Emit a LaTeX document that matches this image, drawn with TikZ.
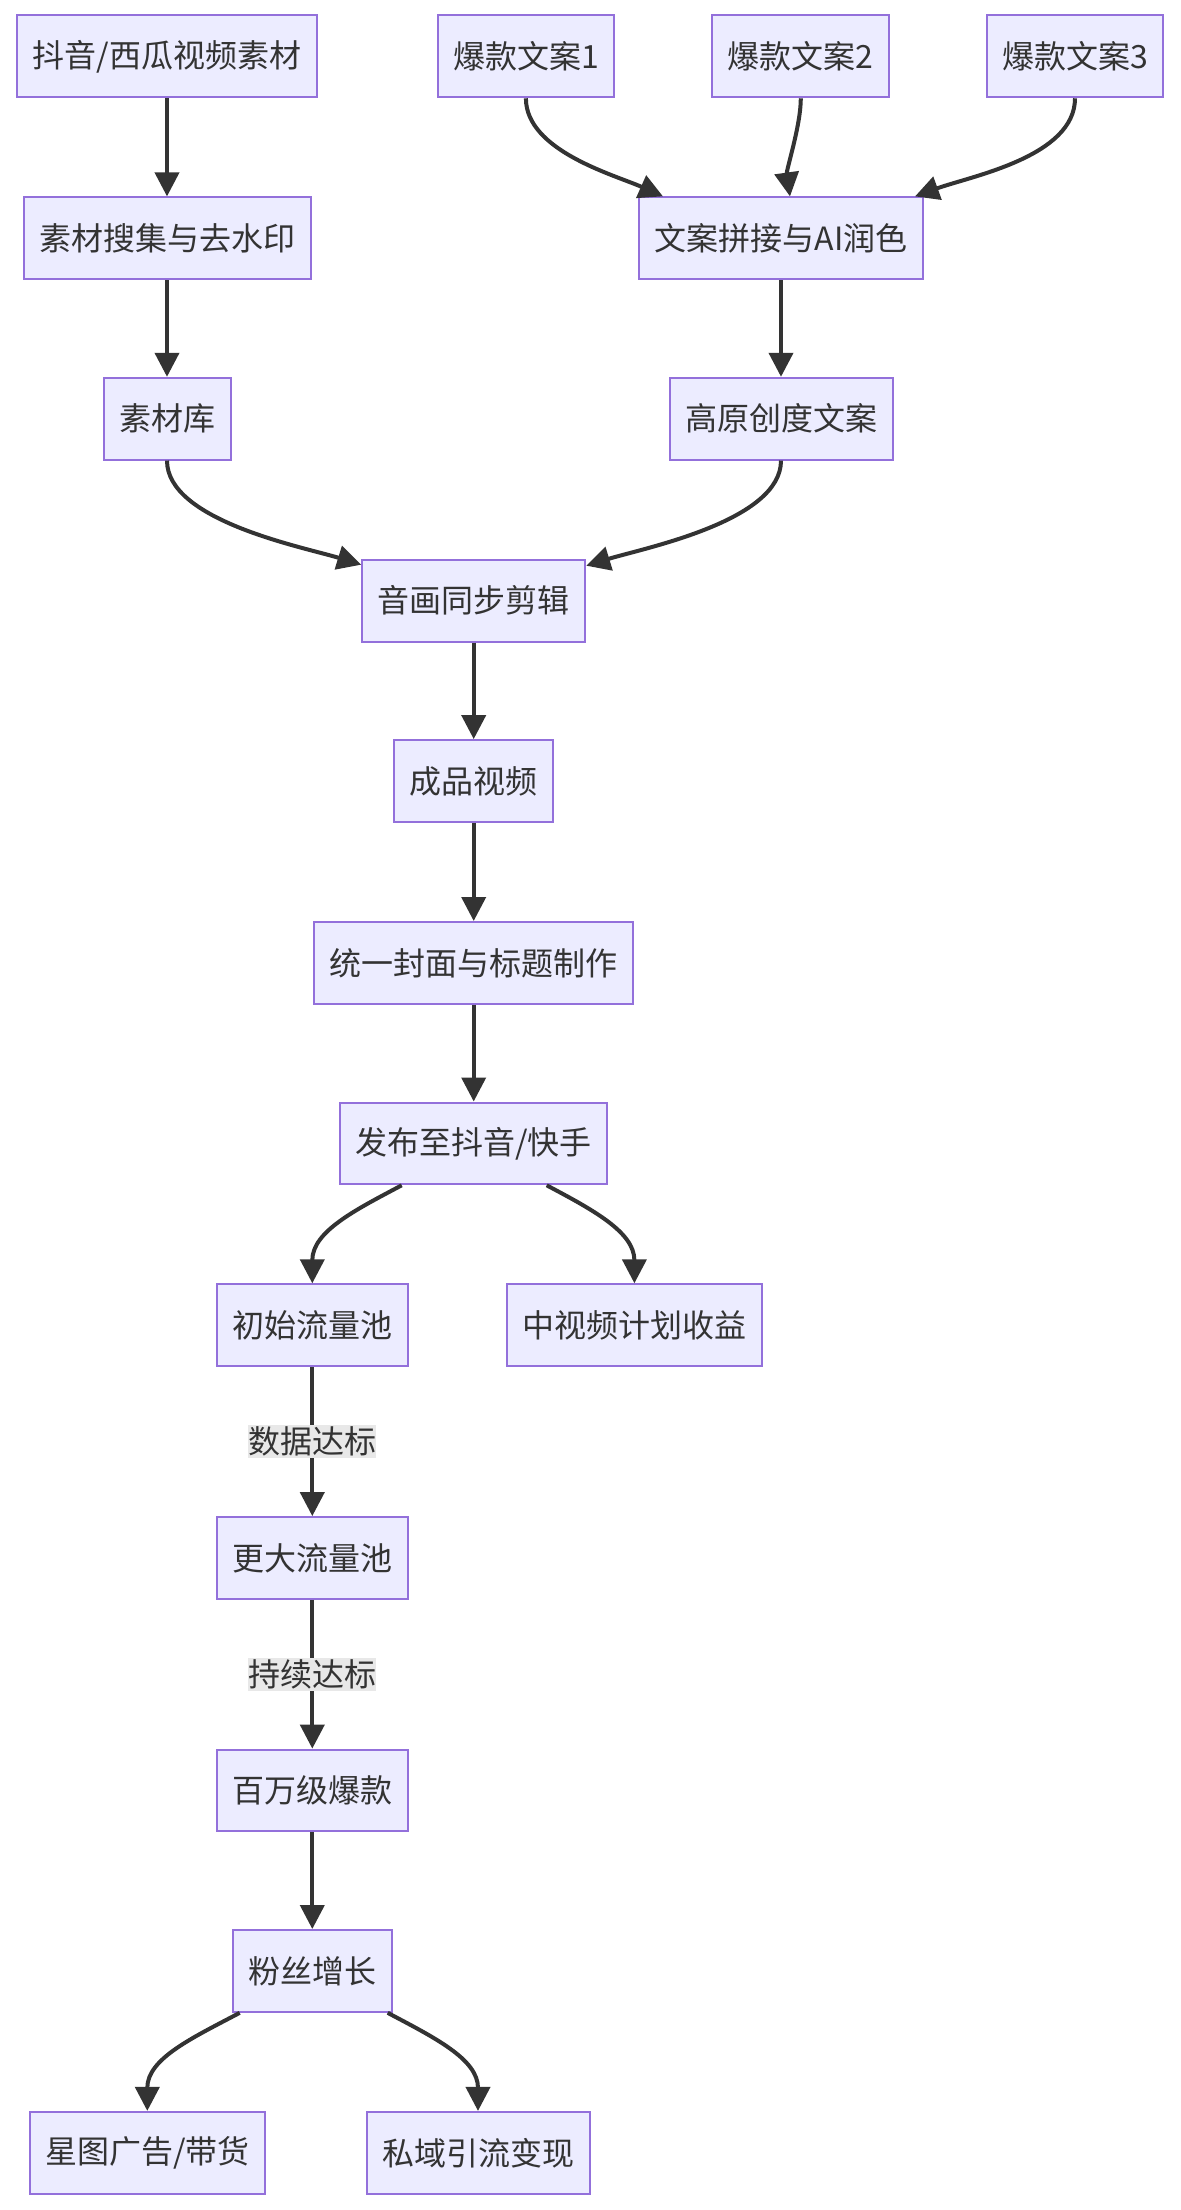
\documentclass[tikz,border=0pt]{standalone}
\usepackage{fontspec}
\setmainfont{Noto Sans CJK SC}
\usepackage{tikz}
\usetikzlibrary{arrows.meta}
\definecolor{boxfill}{HTML}{ECECFF}
\definecolor{boxline}{HTML}{9370DB}
\definecolor{ink}{HTML}{333333}
\definecolor{lblbg}{HTML}{E8E8E8}

\begin{document}
\begin{tikzpicture}[x=1pt, y=-1pt,
  box/.style={draw=boxline, line width=2pt, fill=boxfill, text=ink,
    font=\fontsize{32}{38}\selectfont, inner xsep=15.5pt, inner ysep=0pt,
    minimum height=81.8pt},
  flow/.style={draw=ink, line width=4pt, -{Triangle[width=24pt,length=24pt]}},
  lbl/.style={fill=lblbg, text=ink, font=\fontsize{32}{38}\selectfont,
    inner xsep=0pt, inner ysep=2pt}]
\useasboundingbox (0,0) rectangle (1180,2210);
\node[box] (src)   at (167,56.4)   {抖音/西瓜视频素材};
\node[box] (copyA) at (525.9,56.4) {爆款文案1};
\node[box] (copyB) at (800.8,56.4) {爆款文案2};
\node[box] (copyC) at (1075,56.4)  {爆款文案3};
\node[box] (gather) at (167,238.3) {素材搜集与去水印};
\node[box] (merge)  at (781,238.3) {文案拼接与AI润色};
\node[box] (lib)    at (167,418.7) {素材库};
\node[box] (script) at (781,418.7) {高原创度文案};
\node[box] (edit)    at (473.7,600.6)  {音画同步剪辑};
\node[box] (video)   at (473.7,781)    {成品视频};
\node[box] (cover)   at (473.7,962.9)  {统一封面与标题制作};
\node[box] (publish) at (473.7,1143.4) {发布至抖音/快手};
\node[box] (pool)    at (312.3,1325.2) {初始流量池};
\node[box] (midplan) at (634.4,1325.2) {中视频计划收益};
\node[box] (bigpool) at (312.3,1558)   {更大流量池};
\node[box] (viral)   at (312.3,1790.5) {百万级爆款};
\node[box] (fans)    at (312.3,1970.9) {粉丝增长};
\node[box] (ads)     at (147.3,2152.8) {星图广告/带货};
\node[box] (priv)    at (478,2152.8)   {私域引流变现};
\foreach \a/\b in {src/gather, gather/lib, merge/script, edit/video,
                   video/cover, cover/publish, viral/fans}
  \draw[flow] (\a) -- (\b);
\draw[flow] (copyA.south) to[out=-90, in=156, looseness=.8] ([xshift=-118pt]merge.north);
\draw[flow] (copyB.south) to[out=-90, in=98, looseness=.7] ([xshift=9pt]merge.north);
\draw[flow] (copyC.south) to[out=-90, in=20, looseness=.8] ([xshift=134pt]merge.north);
\draw[flow] (lib.south) to[out=-90, in=163, looseness=.7] ([yshift=-6pt]edit.north west);
\draw[flow] (script.south) to[out=-90, in=17, looseness=.7] ([yshift=-7pt]edit.north east);
\draw[flow] ([xshift=-72pt]publish.south) to[out=-152, in=90] (pool.north);
\draw[flow] ([xshift=73pt]publish.south) to[out=-28, in=90] (midplan.north);
\draw[flow] (pool) -- node[lbl] (passA) {数据达标} (bigpool);
\draw[flow] (bigpool) -- node[lbl] (passB) {持续达标} (viral);
\draw[flow] ([xshift=-72.6pt]fans.south) to[out=-152, in=90] (ads.north);
\draw[flow] ([xshift=75.4pt]fans.south) to[out=-28, in=90] (priv.north);
\end{tikzpicture}
\end{document}
